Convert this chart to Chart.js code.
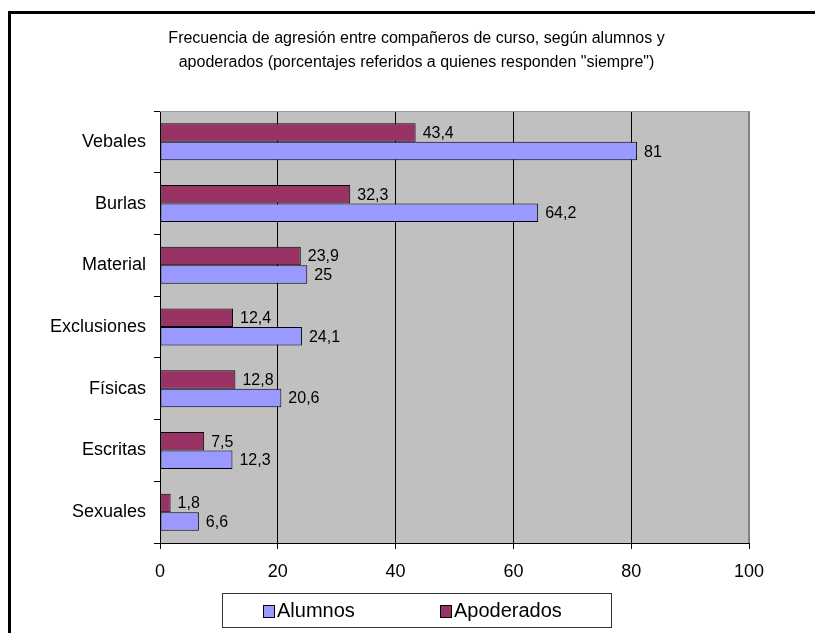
<!DOCTYPE html>
<html>
<head>
<meta charset="utf-8">
<script src="https://cdn.jsdelivr.net/npm/chart.js@4.4.1/dist/chart.umd.min.js"></script>
<style>
  html, body { margin: 0; padding: 0; background: #fff; }
  #wrap { position: relative; width: 815px; height: 633px; }
</style>
</head>
<body>
<div id="wrap"><canvas id="chart"></canvas></div>
<script>
'use strict';

const categories = ['Vebales', 'Burlas', 'Material', 'Exclusiones', 'Físicas', 'Escritas', 'Sexuales'];
const alumnos = [81, 64.2, 25, 24.1, 20.6, 12.3, 6.6];
const apoderados = [43.4, 32.3, 23.9, 12.4, 12.8, 7.5, 1.8];
const seriesNames = ['Alumnos', 'Apoderados'];
const xMin = 0, xMax = 100, xStep = 20;
const titleLines = [
  'Frecuencia de agresión entre compañeros de curso, según alumnos y',
  'apoderados (porcentajes referidos a quienes responden "siempre")',
];

const FONT = '"Liberation Sans", Arial, sans-serif';
const C_ALU = '#9999FF';
const C_APO = '#993366';

// frame round the whole chart + grey plot area
const frame = {
  id: 'frame',
  afterLayout(chart) {
    // title (and legend) centred on the frame, not on the plot
    if (chart.titleBlock) chart.titleBlock.left = 84;
  },
  beforeDraw(chart) {
    const ctx = chart.ctx;
    const a = chart.chartArea;
    ctx.save();
    ctx.strokeStyle = '#000';
    ctx.lineWidth = 3;
    ctx.strokeRect(9.5, 12.5, 900, 800);
    ctx.fillStyle = '#C0C0C0';
    ctx.fillRect(a.left, a.top, a.right - a.left, a.bottom - a.top);
    ctx.restore();
  },
  beforeDatasetsDraw(chart) {
    const ctx = chart.ctx;
    const a = chart.chartArea;
    ctx.save();
    ctx.strokeStyle = '#808080';
    ctx.lineWidth = 2;
    ctx.beginPath();
    ctx.moveTo(a.right, a.top);
    ctx.lineTo(a.right, a.bottom);
    ctx.stroke();
    ctx.lineWidth = 1;
    ctx.strokeStyle = '#9a9a9a';
    ctx.beginPath();
    ctx.moveTo(a.left, a.top + 0.5);
    ctx.lineTo(a.right, a.top + 0.5);
    ctx.stroke();
    ctx.restore();
  },
};

// value labels right of each bar
const valueLabels = {
  id: 'valueLabels',
  afterDatasetsDraw(chart) {
    const ctx = chart.ctx;
    ctx.save();
    ctx.font = '16px ' + FONT;
    ctx.fillStyle = '#000';
    ctx.textBaseline = 'middle';
    ctx.textAlign = 'left';
    chart.data.datasets.forEach((ds, i) => {
      chart.getDatasetMeta(i).data.forEach((bar, j) => {
        ctx.fillText(String(ds.data[j]).replace('.', ','), bar.x + 7, bar.y + 1);
      });
    });
    ctx.restore();
  },
};

// boxed legend, Excel style (Alumnos first)
const boxLegend = {
  id: 'boxLegend',
  afterDraw(chart) {
    const ctx = chart.ctx;
    const tb = chart.titleBlock;
    const cx = (tb.left + tb.right) / 2;
    const w = 389, h = 34, top = 593;
    const left = Math.round(cx - w / 2) + 0.5;
    ctx.save();
    ctx.strokeStyle = '#333';
    ctx.lineWidth = 1;
    ctx.strokeRect(left, top + 0.5, w, h);
    const items = chart.data.datasets.slice().reverse();
    const offs = [40, 217];
    ctx.font = '20px ' + FONT;
    ctx.textBaseline = 'middle';
    items.forEach((ds, i) => {
      const x = Math.round(left + offs[i]);
      ctx.fillStyle = ds.backgroundColor;
      ctx.fillRect(x, 605, 11, 12);
      ctx.strokeStyle = '#000';
      ctx.strokeRect(x + 0.5, 605.5, 11, 12);
      ctx.fillStyle = '#000';
      ctx.fillText(ds.label, x + 14, 611);
    });
    ctx.restore();
  },
};

new Chart(document.getElementById('chart'), {
  type: 'bar',
  data: {
    labels: categories,
    datasets: [
      { label: seriesNames[1], data: apoderados, backgroundColor: C_APO, borderColor: '#000', borderWidth: 1, borderSkipped: false },
      { label: seriesNames[0], data: alumnos, backgroundColor: C_ALU, borderColor: '#000', borderWidth: 1, borderSkipped: false },
    ],
  },
  options: {
    indexAxis: 'y',
    responsive: true,
    maintainAspectRatio: false,
    animation: false,
    datasets: { bar: { categoryPercentage: 0.6, barPercentage: 1 } },
    layout: { padding: { left: 10, right: 66, top: 0, bottom: 48 } },
    plugins: {
      legend: { display: false },
      tooltip: { enabled: false },
      title: {
        display: true,
        text: titleLines,
        color: '#000',
        font: { family: FONT, size: 16, weight: 'normal', lineHeight: 1.5 },
        padding: { top: 27, bottom: 36 },
      },
    },
    scales: {
      x: {
        min: xMin,
        max: xMax,
        afterFit: (s) => { s.height = 42; },
        ticks: { stepSize: xStep, color: '#000', font: { family: FONT, size: 18 }, padding: 12 },
        grid: {
          color: (c) => (c.tick && c.tick.value === xMax ? 'rgba(0,0,0,0)' : '#000'),
          tickColor: '#000',
          tickLength: 6,
        },
        border: { display: true, color: '#000', width: 1 },
      },
      y: {
        afterFit: (s) => { s.width = 150; },
        ticks: { color: '#000', font: { family: FONT, size: 18 }, padding: 8 },
        grid: { drawOnChartArea: false, drawTicks: true, tickLength: 6, color: '#000', offset: true },
        border: { display: true, color: '#000', width: 1 },
      },
    },
  },
  plugins: [frame, valueLabels, boxLegend],
});
</script>
</body>
</html>
